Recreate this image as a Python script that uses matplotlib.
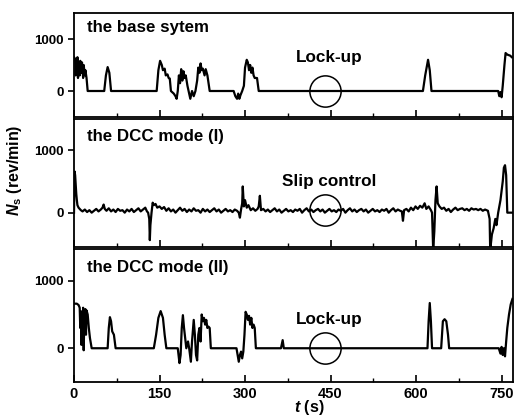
import matplotlib
matplotlib.use('Agg')
import matplotlib.pyplot as plt
from matplotlib.ticker import MultipleLocator

plt.rcParams['font.family'] = ['Liberation Sans', 'DejaVu Sans']
plt.rcParams['font.weight'] = 'bold'
plt.rcParams['mathtext.fontset'] = 'custom'
plt.rcParams['mathtext.it'] = 'Liberation Sans:italic:bold'
plt.rcParams['mathtext.rm'] = 'Liberation Sans:bold'
plt.rcParams['mathtext.bf'] = 'Liberation Sans:bold'

# the base system
t_base = [0, 2, 3, 4, 5, 6, 7, 8, 10, 11, 13, 14, 16, 17, 19, 20, 22, 24,
          53, 56, 59, 62, 65,
          145, 148, 151, 154, 156, 159, 161, 164, 166, 168, 170, 175, 178, 180,
          182, 184, 186, 188, 190, 192, 194, 196, 199, 201, 204, 207, 210, 213,
          216, 218, 220, 222, 224, 226, 229, 231, 234, 236, 238,
          280, 283, 286, 288, 290, 292, 295, 298, 300, 303, 305, 307, 309, 311,
          313, 315, 317, 321, 324,
          612, 616, 621, 624, 627,
          744, 746, 748, 750, 752, 755, 757, 760, 765, 768]
n_base = [650, 620, 300, 600, 450, 650, 250, 550, 300, 580, 350, 550, 250, 500, 300, 400, 250, 0,
          0, 300, 460, 350, 0,
          0, 400, 580, 500, 400, 430, 300, 320, 250, 240, 0, -50, -100, -150,
          0, 300, 150, 420, 200, 380, 250, 300, 100, 0, -150, 0, -100, 0,
          200, 450, 350, 530, 400, 430, 300, 420, 300, 150, 0,
          0, -100, -150, -50, -150, -80, 0, 100, 450, 600, 550, 400, 500, 350,
          450, 300, 250, 250, 0,
          0, 300, 600, 400, 0,
          0, -100, -20, -120, 100, 500, 730, 700, 680, 650]

# the DCC mode (I)
t_dcc1 = [0, 1, 2, 3, 4, 5, 6, 8, 10, 12,
          15, 19, 23, 27, 31, 35, 39, 43, 47, 50,
          52, 54, 57, 61, 65, 69, 73, 77, 81, 85,
          89, 93, 97, 101, 105, 109, 113, 117, 121, 125,
          128, 130, 132, 133, 134, 136, 138, 140, 143, 146,
          150, 154, 158, 162, 166, 170, 174, 178, 182, 186,
          190, 194, 198, 202, 206, 210, 214, 218, 222, 226,
          230, 234, 238, 242, 246, 250, 254, 258, 262, 266,
          270, 274, 278, 282, 286, 289, 291, 293, 295, 296,
          298, 300, 303, 306, 310, 314, 318, 322, 324, 326,
          328, 332, 336, 340, 344, 348, 352, 356, 360, 364,
          368, 372, 376, 380, 384, 388, 392, 396, 400, 404,
          408, 412, 416, 420, 424, 428, 432, 436, 440, 444,
          448, 452, 456, 460, 464, 468, 472, 476, 480, 484,
          488, 492, 496, 500, 504, 508, 512, 516, 520, 524,
          528, 532, 536, 540, 544, 548, 552, 556, 560, 564,
          568, 572, 575, 577, 579, 583, 587, 591, 595, 599,
          603, 607, 611, 615, 618, 622, 626, 628, 630, 632,
          634, 636, 638, 641, 645, 649, 653, 657, 661, 665,
          669, 673, 677, 681, 685, 689, 693, 697, 701, 705,
          709, 713, 717, 721, 726, 729, 730, 733, 736, 739,
          741, 744, 748, 752, 754, 756, 758, 760, 765, 770]
n_dcc1 = [0, 660, 600, 450, 300, 200, 120, 80, 60, 40,
          20, 50, 10, 40, 0, 30, 60, 20, 50, 80,
          130, 60, 30, 70, 20, 50, 10, 60, 30, 40,
          0, 50, 20, 60, 10, 40, 70, 20, 50, 80,
          20, 0, -100, -440, -200, 0, 160, 120, 140, 80,
          100, 60, 90, 30, 70, 20, 50, 0, 40, 80,
          30, 60, 10, 50, 20, 70, 30, 40, 0, 60,
          20, 50, 10, 40, 70, 20, 50, 0, 30, 60,
          20, 40, 10, 50, 30, 0, -80, 50, 150, 420,
          100, 200, 80, 120, 40, 70, 30, 60, 100, 270,
          40, 60, 20, 50, 10, 40, 70, 20, 50, 0,
          30, 60, 20, 40, 10, 50, 30, 60, 0, 40,
          70, 20, 50, 10, 40, 60, 20, 50, 0, 30,
          60, 20, 40, 10, 50, 30, 60, 0, 40, 70,
          20, 50, 10, 40, 60, 20, 50, 0, 30, 60,
          20, 40, 10, 50, 30, 60, 0, 40, 70, 20,
          50, 30, 20, -130, 40, 60, 20, 80, 40, 100,
          60, 110, 80, 150, 60, 100, 40, 0, -600, -300,
          200, 420, 150, 100, 60, 80, 30, 60, 10, 50,
          80, 40, 60, 70, 40, 60, 30, 70, 50, 60,
          40, 60, 30, 50, 30, -100, -600, -350, -250, -100,
          -200, 0, 200, 500, 720, 760, 600, 0, 0, 0]

# the DCC mode (II)
t_dcc2 = [0, 5, 8, 10, 11, 12, 13, 14, 15, 16, 17, 18, 20, 21, 22, 24, 26, 28, 31,
          59, 61, 63, 65, 67, 70, 73,
          140, 144, 148, 152, 156, 159, 162,
          182, 185, 187, 189, 191, 193, 195, 197, 200, 202, 205, 207, 210, 212,
          214, 216, 218, 220, 222, 224, 226, 228, 230, 232, 234, 236, 238, 240,
          285, 287, 289, 291, 293, 295, 297, 299, 301, 303, 305, 307, 309, 311,
          313, 315, 317, 319,
          363, 366, 368,
          620, 622, 624, 626, 628,
          644, 647, 650, 653, 656, 658,
          745, 748, 750, 752, 754, 756, 758, 760, 763, 766, 769]
n_dcc2 = [660, 660, 640, 600, 300, 550, 50, 500, 100, 600, -30, 400, 580, 200, 560, 500, 300, 150, 0,
          0, 300, 460, 400, 250, 200, 0,
          0, 200, 450, 550, 450, 200, 0,
          0, -220, -100, 300, 490, 300, 150, 0, 100, 0, -200, 100, 420, 200,
          -100, -180, 200, 300, 100, 500, 400, 450, 350, 420, 300, 320, 300, 0,
          0, -100, -200, -100, -50, -150, -50, 200, 540, 500, 420, 480, 350, 450,
          300, 350, 300, 0,
          0, 120, 0,
          0, 400, 670, 400, 0,
          0, 400, 430, 400, 200, 0,
          0, -80, 20, -100, 0, -120, 100, 300, 500, 650, 730]

titles = ['the base sytem', 'the DCC mode (I)', 'the DCC mode (II)']
notes = ['Lock-up', 'Slip control', 'Lock-up']
x_ticks = [0, 150, 300, 450, 600, 750]

fig = plt.figure(figsize=(5.15, 4.19), dpi=100)
W, H = 515.0, 419.0
# panel boxes in pixels: (top, bottom)
boxes = [(13, 117), (119, 247), (249, 382)]
ylims = [(-500, 1500), (-550, 1500), (-500, 1470)]
series = [(t_base, n_base), (t_dcc1, n_dcc1), (t_dcc2, n_dcc2)]
note_y = [650, 500, 430]
circle_y = [0, 50, 0]

axes = []
for i in range(3):
    top, bot = boxes[i]
    ax = fig.add_axes([74 / W, 1 - bot / H, 439 / W, (bot - top) / H])
    t, n = series[i]
    ax.plot(t, n, color='black', lw=1.6)
    ax.set_xlim(0, 770)
    ax.set_ylim(*ylims[i])
    ax.set_xticks(x_ticks)
    ax.xaxis.set_minor_locator(MultipleLocator(75))
    ax.set_yticks([0, 1000])
    ax.tick_params(axis='x', which='major', direction='in', length=5, width=1.2)
    ax.tick_params(axis='x', which='minor', direction='in', length=3, width=1)
    ax.tick_params(axis='y', direction='out', length=4, width=1.2, labelsize=9.5)
    ax.tick_params(axis='x', labelsize=10.5)
    for s in ax.spines.values():
        s.set_linewidth(1.3)
    if i < 2:
        ax.set_xticklabels([])
    ax.text(0.03, 0.86, titles[i], transform=ax.transAxes, fontsize=12.2,
            fontweight='bold', va='center', ha='left')
    ax.text(447, note_y[i], notes[i], fontsize=12.3, fontweight='bold',
            ha='center', va='center')
    ax.plot([440], [circle_y[i]], 'o', ms=22.5, mfc='none', mec='black', mew=1.1)
    axes.append(ax)

fig.text(0.028, 0.594, r'$N_\mathrm{s}$ (rev/min)', rotation=90, fontsize=11.5,
         fontweight='bold', ha='center', va='center')
fig.text(0.6, 0.004, r'$t$ (s)', fontsize=11.5, fontweight='bold',
         ha='center', va='bottom')

fig.savefig('out.png', dpi=100)
